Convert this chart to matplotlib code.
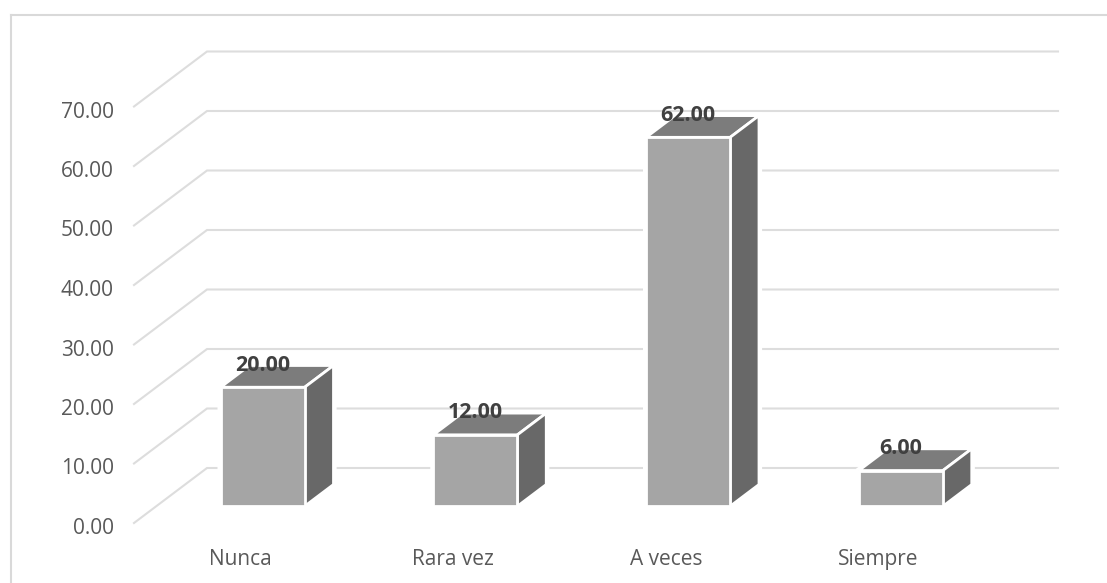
import matplotlib
matplotlib.use("Agg")
import matplotlib.pyplot as plt
from matplotlib.lines import Line2D
from matplotlib.patches import Polygon
from matplotlib.transforms import ScaledTranslation

categorias = ["Nunca", "Rara vez", "A veces", "Siempre"]
valores = [20, 12, 62, 6]
ticks_y = [0, 10, 20, 30, 40, 50, 60, 70]

W, H = 1107, 583
# front plane of the fake 3d box, in pixels
X0, X1 = 134, 985
Y0, Y70 = 523, 106.5

# depth of the box in axis units
DX = 73 / ((X1 - X0) / 4)
DY = 55 / ((Y0 - Y70) / 70)
ANCHO = 0.395
D0, D1 = 0.305, 0.70

plt.rcParams['font.family'] = ['Open Sans', 'DejaVu Sans']

fig = plt.figure(figsize=(W / 100, H / 100), dpi=100)
ax = fig.add_axes([X0 / W, 1 - Y0 / H, (X1 - X0) / W, (Y0 - Y70) / H])
ax.set_xlim(0, 4)
ax.set_ylim(0, 70)
for s in ax.spines.values():
    s.set_visible(False)
ax.patch.set_visible(False)


def proy(x, y, d):
    return (x + d * DX, y + d * DY)


# grid: diagonal on the side wall, then flat along the back
for t in ticks_y:
    a = proy(0, t, 0)
    b = proy(0, t, 1)
    c = proy(4, t, 1)
    ax.plot([a[0], b[0], c[0]], [a[1], b[1], c[1]], color="#DDDDDD", lw=1.5,
            clip_on=False, zorder=1, solid_joinstyle="miter")

# bars
for i, v in enumerate(valores):
    x0 = i + 0.5 - ANCHO / 2
    x1 = i + 0.5 + ANCHO / 2
    frente = [proy(x0, 0, D0), proy(x1, 0, D0), proy(x1, v, D0), proy(x0, v, D0)]
    lado = [proy(x1, 0, D0), proy(x1, 0, D1), proy(x1, v, D1), proy(x1, v, D0)]
    tapa = [proy(x0, v, D0), proy(x1, v, D0), proy(x1, v, D1), proy(x0, v, D1)]
    silueta = [frente[0], frente[1], lado[1], lado[2], tapa[3], frente[3]]
    ax.add_patch(Polygon(silueta, closed=True, fc="white", ec="white", lw=4.5, clip_on=False, zorder=2))
    ax.add_patch(Polygon(tapa, closed=True, fc="#7C7C7C", ec="white", lw=2, clip_on=False, zorder=3))
    ax.add_patch(Polygon(lado, closed=True, fc="#686868", ec="white", lw=2, clip_on=False, zorder=3))
    ax.add_patch(Polygon(frente, closed=True, fc="#A5A5A5", ec="white", lw=2, clip_on=False, zorder=3))
    cx, cy = proy(i + 0.5, v, D0)
    ax.annotate("%.2f" % v, (cx, cy), xytext=(0, 16), textcoords="offset points",
                ha="center", va="center", fontsize=15.5, fontweight="bold",
                color="#404040", zorder=5, annotation_clip=False)

ax.set_yticks(ticks_y)
ax.set_yticklabels(["%.2f" % t for t in ticks_y])
ax.set_xticks([i + 0.5 for i in range(len(categorias))])
ax.set_xticklabels(categorias)
ax.tick_params(axis="both", length=0, labelsize=15, labelcolor="#595959")
ax.tick_params(axis="y", pad=14.5)
ax.tick_params(axis="x", pad=19)

# y labels sit a little under the ends of the grid lines
bajar = ScaledTranslation(0, -3 / 100, fig.dpi_scale_trans)
for lab in ax.get_yticklabels():
    lab.set_transform(lab.get_transform() + bajar)

# chart frame, only the top and left sides are inside the crop
fig.add_artist(Line2D([11 / W, 11 / W], [0, 1 - 15 / H], color="#D9D9D9", lw=1.5))
fig.add_artist(Line2D([11 / W, 1], [1 - 15 / H, 1 - 15 / H], color="#D9D9D9", lw=1.5))

fig.savefig("out.png", dpi=100)
